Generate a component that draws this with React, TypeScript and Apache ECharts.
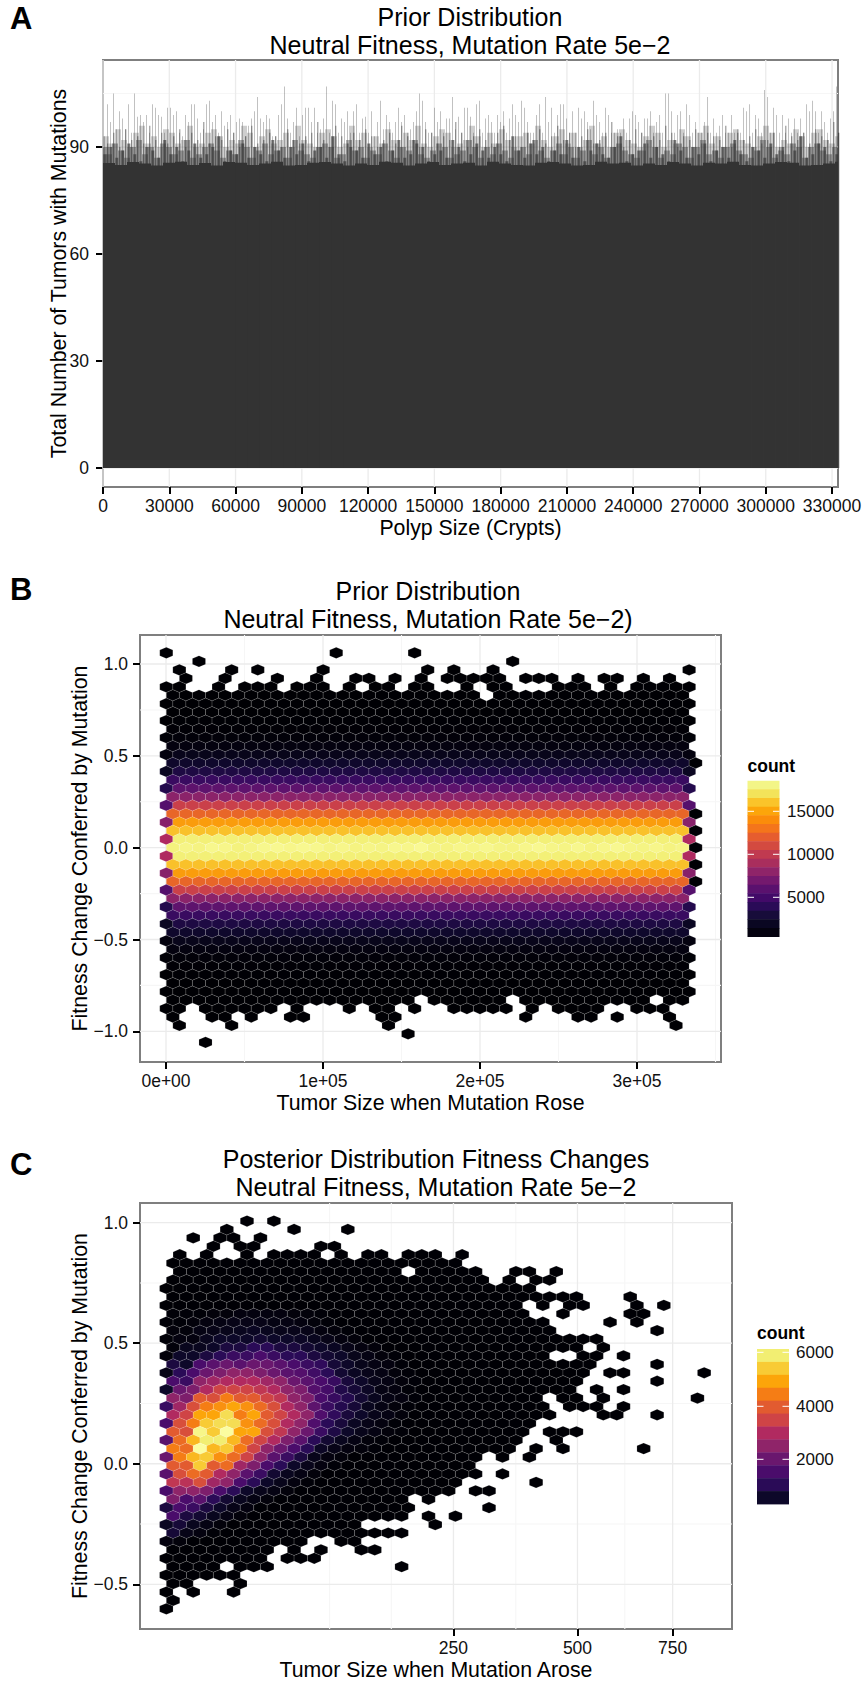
import React, { useEffect, useRef } from "react";
import * as echarts from "echarts";

const FONT = "Liberation Sans, Arial, Helvetica, sans-serif";

// ---------- Panel A ----------
const polypBinSize = 1358;
const polypTicks = [0, 30000, 60000, 90000, 120000, 150000, 180000, 210000, 240000, 270000, 300000, 330000];
const tumorCountTicks = [0, 30, 60, 90];
const spikeTops = [
  93,102,97,105,95,100,98,95,102,94,105,98.5,99,97,99,94,102,101,99,98.5,94,101,101,99,100,94,93,99,97,102,102,98,94,95,102,103,97,99,94,100,96,97,99,94,97,98,97,93,96,98,100,104,98,97,99,98,93,93,99,102,107,98,94,97,101,93,99,101,101,97,101,94,95,98,107,94,103,102,94,98,97,100,94,100,102,94,98,98.5,94,100,93,97,103,95,99,97,94,97,101,97,99,94,95,97,100,105,103,97,94,94,101,97,100,94,98,98,104,95,98.5,94,101,101,98.5,
  94,102,103,94,98,99,97,94,99,97,100,94,98,102,99,97,103,101,97,94,94,99,102,94,104,97,101,94,99,102,102,98,94,100,94,101,98,100,97,95,103,99,97,94,101,99,94,94,95,94,98,94,98,100,99,97,94,98,98,100,94,97,99,94,105,105,100,94,99,100,94,102,99,94,97,94,94,97,104,94,98,94,96,99,94,94,99,94,95,94,101,100,102,94,99,98,94,106,104,94,101,99,94,99,94,98,94,98,94,98,94,102,100,103,100,94,100,97,94,98,100,107,94,
];
const darkLineTops = [
  91,94,90,95,92,93,91,96,92,94,91,93,95,90,94,92,97,91,93,92,95,94,90,93,96,91,92,94,93,90,95,92,91,93,94,97,92,90,96,93,91,94,92,95,93,90,92,94,91,96,93,92,90,95,94,91,93,92,97,94,90,93,95,92,91,94,96,92,93,90,94,92,95,91,93,96,92,94,90,93,95,91,92,94,97,93,90,92,95,94,91,93,92,96,94,90,93,92,95,91,94,93,92,96,90,94,92,93,95,91,92,94,90,96,93,92,94,91,95,93,92,97,94,
];
const deepLineTops = [
  88,90,87,89,91,88,86,90,89,87,92,88,90,86,89,91,87,88,90,93,86,89,88,91,87,90,88,86,92,89,87,90,88,91,86,89,90,87,93,88,86,90,89,87,91,88,90,86,89,92,87,88,91,90,86,88,89,87,92,90,86,88,91,89,87,90,88,86,93,89,87,91,88,90,86,89,88,92,87,90,86,89,91,88,87,90,93,86,88,89,91,87,90,88,86,92,89,87,90,88,91,86,89,90,87,92,88,86,90,89,87,91,88,90,86,89,93,87,88,91,90,86,88,
];
const washTops = [
  93,91,95,92,90,94,96,91,93,90,95,94,91,92,96,90,91,94,95,93,90,92,91,96,94,90,93,95,91,92,94,90,96,92,91,90,94,95,93,90,91,96,92,94,90,93,91,95,92,90,94,92,96,91,90,93,95,94,90,91,92,96,93,90,94,91,95,92,90,93,94,91,96,92,90,93,95,91,94,90,92,96,91,93,90,94,95,92,91,90,93,96,94,90,92,91,95,93,90,94,96,91,93,90,94,95,92,91,90,93,96,94,90,92,91,95,93,90,94,95,92,91,93,
];
const midTops = [
  90,88,91,89,87,90,92,88,90,87,91,90,88,89,92,87,88,90,91,89,87,89,88,92,90,87,89,91,88,89,90,87,92,89,88,87,90,91,90,87,88,92,89,90,87,89,88,91,89,87,90,89,92,88,87,89,91,90,87,88,89,92,90,87,90,88,91,89,87,89,90,88,92,89,87,89,91,88,90,87,89,92,88,90,87,90,91,89,88,87,89,92,90,87,89,88,91,90,87,90,92,88,89,87,90,91,89,88,87,89,92,90,87,89,88,91,90,87,90,91,89,88,90,
];
const coreTops = [
  85.5,85,85.8,85.4,84.8,85.6,85.9,85,85.5,84.8,85.8,85.6,85,85.4,85.9,84.8,85,85.6,85.8,85.4,84.8,85.4,85,85.9,85.6,84.8,85.4,85.8,85,85.4,85.6,84.8,85.9,85.4,85,84.8,85.6,85.8,85.4,84.8,85,85.9,85.4,85.6,84.8,85.4,85,85.8,85.4,84.8,85.6,85.4,85.9,85,84.8,85.4,85.8,85.6,84.8,85,85.4,85.9,
];

// ---------- Shared hex colours ----------
const hexLevelColors = ["#000004","#0d0829","#2a0b57","#4a0c6b","#6a176e","#8f2469","#b12a60","#cf4446","#e25b30","#f57d15","#fca50a","#f8cb35","#f2ee72","#fbfda0"];

// ---------- Panel B ----------
const priorSizeTicks = [0, 100000, 200000, 300000];
const priorFitnessTicks = [-1, -0.5, 0, 0.5, 1];
const priorRowCounts = [5,5,5,5,5,8,10,15,25,80,200,430,860,1570,2300,3600,5300,7150,10000,12150,14300,15700,17700,18200,17700,15700,14300,12150,10000,7150,5300,3600,2300,1570,860,430,200,80,25,15,10,8,5,5,5,5,5];
const priorEdgeCounts = [0,0,0,0,3,0,5,0,12,0,100,0,420,0,1200,0,2600,0,4900,0,7000,0,8700,0,8700,0,7000,0,4900,0,2600,0,1200,0,420,0,100,0,12,0,5,0,3,0,0,0,0];
const priorRow23Counts = [17900,18200,18000,18400,18300,17900,18100,18400,18500,18300,18500,18400,18100,18300,18000,18200,18100,18400,18300,18600,18100,18000,18300,18200,18400,18100,18000,18300,18500,18200,18100,18400,18000,18300,18500,18200,18100,18300,18000,18200];
const priorFringeRows: Record<number, number[]> = {
  0: [0, 13, 19],
  1: [2.5, 26.5],
  2: [1, 5, 7, 12, 20, 22, 25, 40],
  3: [1.5, 4.5, 8.5, 11.5, 14.5, 15.5, 17.5, 19.5, 21.5, 22.5, 23.5, 24.5, 25.5, 27.5, 28.5, 29.5, 31.5, 33.5, 34.5, 36.5, 38.5],
  4: [0, 1, 4, 6, 7, 8, 10, 11, 12, 14, 16, 17, 19, 20, 23, 25, 26, 30, 31, 32, 34, 36, 37, 38, 39, 40],
  42: [0, 1, 3, 4, 5, 6, 7, 8, 10, 14, 16, 17, 19, 22, 23, 24, 25, 26, 28, 30, 31, 32, 33, 36, 37, 38],
  43: [0.5, 3.5, 4.5, 6.5, 9.5, 10.5, 16.5, 17.5, 27.5, 31.5, 32.5, 34.5, 38.5],
  44: [1, 5, 17, 39],
  45: [18.5],
  46: [3],
};
const priorHoles: Record<number, number[]> = { 5: [24.5], 41: [19.5, 26.5, 37.5] };
const priorRightExtras = [13, 19, 21, 23, 25, 27];
const priorLegendTicks = [5000, 10000, 15000];
const priorLegendBands = ["#f3f587","#f3e35a","#fac42a","#fca50a","#fb8c0a","#f4751b","#e65d2f","#d34a40","#c03a50","#a92e5d","#8f2469","#74196e","#5a116e","#420a68","#2a0b57","#170c3a","#0a0722","#04020f"];

// ---------- Panel C ----------
const arisenSizeTicks = [250, 500, 750];
const arisenFitnessTicks = [-0.5, 0, 0.5, 1];
const arisenMinorSizes = [86, 157, 365, 618];
type Span = number | [number, number];
const posteriorSpans: Span[][] = [
  [6, 8],
  [4.5, 9.5, 13.5],
  [2, 4, 5, 7],
  [3.5, 5.5, 6.5, 11.5, 12.5],
  [1, 3, 6, 8, 9, 10, 11, 13, 15, 16, 18, 19, 20, 22],
  [[0.5, 21.5]],
  [[1, 17], [19, 23], 26, 27, 29],
  [[0.5, 23.5], 25.5, 27.5, 28.5],
  [[0, 27]],
  [[0.5, 30.5], 34.5],
  [[0, 26], 28, 30, 31, 35, 37],
  [[0.5, 26.5], 29.5, 34.5, 35.5],
  [[0, 28], 33, 35],
  [[0.5, 28.5], 36.5],
  [[0, 32]],
  [[0.5, 30.5], 32.5],
  [[0, 28], 31, 32, 34],
  [[0.5, 31.5], 36.5],
  [[0, 31], 33, 34, 40],
  [[0.5, 30.5], 36.5],
  [[0, 30], 32, 34],
  [[0.5, 27.5], 29.5, 30.5, 32.5, 39.5],
  [[0, 28], 30, 31, 32, 34],
  [[0.5, 28.5], 32.5, 33.5, 36.5],
  [[0, 27]],
  [[0.5, 26.5], 28.5, 29.5, 30.5],
  [[0, 26], 29],
  [[0.5, 25.5], 27.5, 29.5, 35.5],
  [[0, 23], 25, 27],
  [[0.5, 22.5]],
  [[0, 23], 25],
  [[0.5, 21.5], 27.5],
  [[0, 21], 23, 24],
  [[0.5, 17.5], 19.5],
  [[0, 18], 24],
  [[0.5, 17.5], 19.5, 21.5],
  [[0, 14], 20],
  [[0.5, 17.5]],
  [[0, 10], 13, 14],
  [[0.5, 7.5], 9.5, 11.5, 14.5, 15.5],
  [[0, 7], 9, 10, 11],
  [[0.5, 3.5], [5.5, 7.5], 17.5],
  [[0, 5]],
  [0.5, 1.5, 5.5],
  [0, 2, 5],
  [0.5],
  [0],
];
// Colour level of the cells at the start of each row (1 level = 450 tumours)
const posteriorLevels: Record<number, number[]> = {
  11: [.1,.1,.1,.2,.2,.3,.3,.3,.3,.2,.2,.1],
  12: [.1,.1,.2,.3,.4,.5,.5,.5,.4,.4,.3,.2,.1],
  13: [.2,.2,.4,.5,.6,.7,.8,.7,.6,.6,.5,.3,.2,.1],
  14: [.1,.3,.3,.7,1,1,1,1.2,1,1,.9,.7,.5,.3,.2],
  15: [.2,.7,.7,1,1.5,1.5,2,2,1.5,1.5,1.2,1,.8,.5,.3,.2],
  16: [.2,1,1,1.5,2,2.5,2.5,3,2.5,2,2,1.5,1.2,1,.6,.4,.2,.1],
  17: [1.5,1,3,3.5,4,3.5,4,4,3.5,3,2.5,2.2,1.3,1,.6,.4,.3,.1],
  18: [.5,2,3,4,4.5,5,5,4.5,4,3.5,3.3,2.7,2,1.2,.8,.6,.4,.2,.1],
  19: [3,2.5,5,5.5,6,6,6,5.5,5,4,3.5,3,2.4,1.4,1,.6,.4,.2,.1],
  20: [1,4,4.5,6,7,7,7,6.5,6,5,4.5,3.3,2.8,1.7,1.3,.9,.4,.3,.1],
  21: [5,4.5,8,7.5,9,8,8,7,6.5,5,4.5,3,2.4,1.8,1.2,.7,.4,.3,.1],
  22: [2.5,5.5,7.5,9,9.5,10,9.5,8.5,7.5,6,5,3.6,2.5,1.8,1.3,.7,.4,.2,.1],
  23: [6,7,10,10,11.5,9,10,8,7,6,5,3.2,2.2,1.4,1,.6,.4,.2],
  24: [3,7.5,9,11,11.5,11.5,9.5,8.5,7.5,6,5,3.2,2,1.4,.8,.5,.3,.1],
  25: [8,7.5,12.5,11,13,10,10,7.5,6.5,5,4,2.5,1.6,1,.6,.4,.2,.1],
  26: [3.5,8.5,10.5,12,12,10.5,8.5,7,6,4.5,3.5,2,1.2,.7,.4,.2,.1],
  27: [9,8.5,13.5,10.5,11,9,7,5,4,3,2,.9,.5,.3,.2,.1],
  28: [4,9,10.5,11,9.5,8.5,7,5,3.5,2.5,1.5,.6,.3,.2],
  29: [8,8,11,8,8.5,5.5,4.5,3,2,1,.6,.3,.1],
  30: [3.5,7.5,8.5,8,6,5,3.5,2.5,1.2,.7,.4,.2],
  31: [6.5,6.3,7.5,5.5,5,3,2,1,.6,.3,.1],
  32: [3,5,5,4.5,3,2,1,.6,.4,.2],
  33: [4.5,3,3.5,2,1.2,.7,.4,.2],
  34: [1.5,3,2.5,1.5,1,.5,.3],
  35: [3,1.5,1.2,.7,.4,.2],
  36: [.8,1.3,.7,.4,.2],
  37: [1.3,.5,.3,.1],
  38: [.3,.2],
};
const posteriorLegendTicks = [2000, 4000, 6000];
const posteriorLegendBands = ["#f2ee72","#f8cb35","#fca50a","#f57d15","#e25b30","#cf4446","#b12a60","#8f2469","#6a176e","#4a0c6b","#2a0b57","#0d0829"];

const priorStepX = 8325, priorStartX = 190, priorStepY = 0.0461;
const postStepX = 0.71, postStartX = 0.65, postStepY = 0.03498, postStartY = 1.007;
const levelCount = 450;

const priorCells: number[][] = [];
for (let r = 0; r < priorRowCounts.length; r++) {
  const odd = r % 2 === 1;
  let cols: number[] = [];
  if (priorFringeRows[r]) cols = priorFringeRows[r];
  else {
    const last = odd ? 39.5 : 40;
    for (let c = odd ? 0.5 : 0; c <= last; c++) cols.push(c);
    if (priorHoles[r]) cols = cols.filter((c) => !priorHoles[r].includes(c));
    if (priorRightExtras.includes(r)) cols.push(40.5);
  }
  cols.forEach((c) => {
    let n = priorRowCounts[r];
    if (!odd && (c === 0 || c === 40)) n = priorEdgeCounts[r];
    if (r === 23 && c < 40) n = priorRow23Counts[Math.floor(c)];
    if (c === 40.5) n = 40;
    priorCells.push([priorStartX + c * priorStepX, (23 - r) * priorStepY, n]);
  });
}
const postCells: number[][] = [];
posteriorSpans.forEach((spans, r) => {
  const base = r % 2 === 1 ? 0.5 : 0;
  spans.forEach((s) => {
    const [a, b] = Array.isArray(s) ? s : [s, s];
    for (let c = a; c <= b; c++) {
      const lv = posteriorLevels[r]?.[Math.round(c - base)] ?? 0.03;
      postCells.push([postStartX + c * postStepX, postStartY - r * postStepY, lv * levelCount]);
    }
  });
});

const hexColor = (level: number) =>
  echarts.color.lerp(Math.min(1, Math.max(0, level / 13)), hexLevelColors) as string;

const gridLines = (xMajor: number[], xMinor: number[], yMajor: number[], yMinor: number[]) => {
  const d: number[][] = [];
  xMinor.forEach((v) => d.push([0, v, 0]));
  yMinor.forEach((v) => d.push([1, v, 0]));
  xMajor.forEach((v) => d.push([0, v, 1]));
  yMajor.forEach((v) => d.push([1, v, 1]));
  return d;
};

function gridLineSeries(idx: number, data: number[][], ext: number[]) {
  const [x0, x1, y0, y1] = ext;
  return {
    type: "custom", xAxisIndex: idx, yAxisIndex: idx, silent: true, z: 1, data,
    renderItem: (_: any, api: any) => {
      const vert = api.value(0) === 0;
      const v = api.value(1);
      const a = api.coord(vert ? [v, y0] : [x0, v]);
      const b = api.coord(vert ? [v, y1] : [x1, v]);
      return {
        type: "line",
        shape: { x1: a[0], y1: a[1], x2: b[0], y2: b[1] },
        style: { stroke: api.value(2) ? "#ebebeb" : "#f6f6f6", lineWidth: api.value(2) ? 1.3 : 1.1 },
      };
    },
  };
}

function columnSeries(values: number[], binFactor: number, shift: number, widthPx: number, color: string, z: number) {
  return {
    type: "custom", xAxisIndex: 0, yAxisIndex: 0, silent: true, z,
    data: values.map((v, i) => [(i * binFactor + shift) * polypBinSize, v]),
    renderItem: (_: any, api: any) => {
      const top = api.coord([api.value(0), api.value(1)]);
      const base = api.coord([api.value(0), 0]);
      const left = Math.max(103, top[0] - widthPx / 2);
      return { type: "rect", shape: { x: left, y: top[1], width: Math.min(838 - left, widthPx), height: base[1] - top[1] }, style: { fill: color } };
    },
  };
}

function hexSeries(idx: number, cells: number[][], stepX: number, stepY: number, unit: number) {
  return {
    type: "custom", xAxisIndex: idx, yAxisIndex: idx, silent: true, z: 3, data: cells,
    renderItem: (_: any, api: any) => {
      const c = api.coord([api.value(0), api.value(1)]);
      const s = api.size([stepX, stepY]);
      const hw = s[0] / 2, hh = (s[1] * 2) / 3, q = hh / 2;
      return {
        type: "polygon",
        shape: { points: [[c[0], c[1] - hh], [c[0] + hw, c[1] - q], [c[0] + hw, c[1] + q], [c[0], c[1] + hh], [c[0] - hw, c[1] + q], [c[0] - hw, c[1] - q]] },
        style: { fill: hexColor(api.value(2) / unit), stroke: "rgba(255,255,255,0.25)", lineWidth: 0.5 },
      };
    },
  };
}

const tickStyle = { show: true, length: 7, lineStyle: { color: "#000", width: 2 } };
const labelBase = { color: "#111", fontFamily: FONT, fontSize: 17.5 };
const nameStyle = { color: "#000", fontFamily: FONT, fontSize: 21.3 };
const minus = (s: string) => s.replace("-", "\u2212");

function axis(cfg: any) {
  return {
    type: "value", min: cfg.min, max: cfg.max, gridIndex: cfg.grid,
    name: cfg.name, nameLocation: "center", nameGap: cfg.gap, nameTextStyle: nameStyle,
    nameMoveOverlap: cfg.moveName ?? true,
    axisLine: { show: false, onZero: false }, splitLine: { show: false }, minorSplitLine: { show: false },
    axisTick: { ...tickStyle, customValues: cfg.ticks },
    axisLabel: { ...labelBase, customValues: cfg.ticks, margin: cfg.margin, formatter: cfg.fmt, hideOverlap: false },
  };
}

function legend(title: string, x: number, titleY: number, top: number, bottom: number, bands: string[], ticks: number[], tickY: number[], labelX: number) {
  const els: any[] = [];
  const h = (bottom - top) / bands.length;
  bands.forEach((fill, i) => els.push({ type: "rect", shape: { x, y: top + i * h, width: 32, height: h + 0.4 }, style: { fill }, z: 5 }));
  els.push({ type: "text", x, y: titleY, style: { text: title, fill: "#000", font: `bold 17.5px ${FONT}`, textVerticalAlign: "bottom" }, z: 5 });
  ticks.forEach((t, i) => {
    els.push({ type: "rect", shape: { x, y: tickY[i] - 0.5, width: 6.5, height: 1 }, style: { fill: "#fff" }, z: 6 });
    els.push({ type: "rect", shape: { x: x + 25.5, y: tickY[i] - 0.5, width: 6.5, height: 1 }, style: { fill: "#fff" }, z: 6 });
    els.push({ type: "text", x: labelX, y: tickY[i], style: { text: String(t), fill: "#111", font: `17px ${FONT}`, textVerticalAlign: "middle" }, z: 5 });
  });
  return els;
}

const panelTag = (text: string, y: number) => ({
  type: "text", x: 10, y, style: { text, fill: "#000", font: `bold 31px ${FONT}`, textVerticalAlign: "bottom" }, z: 5,
});
const titleOf = (text: string, left: number, top: number) => ({
  text, left, top, textAlign: "center", padding: 0,
  textStyle: { color: "#000", fontFamily: FONT, fontSize: 25, fontWeight: "normal", lineHeight: 28 },
});

export default function App() {
  const ref = useRef<HTMLDivElement>(null);
  useEffect(() => {
    document.body.style.margin = "0";
    const chart = echarts.init(ref.current!, undefined, { renderer: "svg" });
    const extA = [0, 332700, -5.3, 114.4];
    const extB = [-16560, 353500, -1.167, 1.158];
    const extC = [-0.74, 30.52, -0.6855, 1.0817];
    const sqrtTicks = arisenSizeTicks.map(Math.sqrt);
    const sqrtMinor = arisenMinorSizes.map(Math.sqrt);
    chart.setOption({
      animation: false,
      backgroundColor: "#fff",
      title: [
        titleOf("Prior Distribution\nNeutral Fitness, Mutation Rate 5e\u22122", 470, 3),
        titleOf("Prior Distribution\nNeutral Fitness, Mutation Rate 5e\u22122)", 428, 577),
        titleOf("Posterior Distribution Fitness Changes\nNeutral Fitness, Mutation Rate 5e\u22122", 436, 1145),
      ],
      grid: [
        { left: 103, top: 60, width: 735, height: 427 },
        { left: 140, top: 635, width: 581, height: 427 },
        { left: 140, top: 1203, width: 592, height: 426 },
      ].map((g) => ({ ...g, show: true, backgroundColor: "#fff", borderColor: "#7f7f7f", borderWidth: 2, containLabel: false, outerBoundsMode: "none" })),
      xAxis: [
        axis({ grid: 0, min: extA[0], max: extA[1], ticks: polypTicks, name: "Polyp Size (Crypts)", gap: 30, margin: 10, fmt: (v: number) => String(v) }),
        axis({ grid: 1, min: extB[0], max: extB[1], ticks: priorSizeTicks, name: "Tumor Size when Mutation Rose", gap: 30, margin: 10, fmt: (v: number) => v.toExponential(0).replace(/e\+(\d)$/, "e+0$1").replace(/^0e\+0+$/, "0e+00") }),
        axis({ grid: 2, min: extC[0], max: extC[1], ticks: sqrtTicks, name: "Tumor Size when Mutation Arose", gap: 30, margin: 10, fmt: (v: number) => String(Math.round(v * v)) }),
      ],
      yAxis: [
        axis({ grid: 0, min: extA[2], max: extA[3], ticks: tumorCountTicks, name: "Total Number of Tumors with Mutations", gap: 34, margin: 14, moveName: false, fmt: (v: number) => String(v) }),
        axis({ grid: 1, min: extB[2], max: extB[3], ticks: priorFitnessTicks, name: "Fitness Change Conferred by Mutation", gap: 50, margin: 12, moveName: false, fmt: (v: number) => minus(v.toFixed(1)) }),
        axis({ grid: 2, min: extC[2], max: extC[3], ticks: arisenFitnessTicks, name: "Fitness Change Conferred by Mutation", gap: 50, margin: 12, moveName: false, fmt: (v: number) => minus(v.toFixed(1)) }),
      ],
      series: [
        gridLineSeries(0, gridLines(polypTicks, [], tumorCountTicks, [15, 45, 75, 105]), extA),
        gridLineSeries(1, gridLines(priorSizeTicks, [50000, 150000, 250000, 350000], priorFitnessTicks, [-0.75, -0.25, 0.25, 0.75]), extB),
        gridLineSeries(2, gridLines(sqrtTicks, sqrtMinor, arisenFitnessTicks, [-0.25, 0.25, 0.75]), extC),
        columnSeries(spikeTops, 1, 0.5, 1, "rgba(51,51,51,0.3)", 2),
        columnSeries(washTops, 2, 1, 6, "rgba(51,51,51,0.24)", 3),
        columnSeries(midTops, 2, 0, 6, "rgba(51,51,51,0.4)", 4),
        columnSeries(darkLineTops, 2, 1.6, 1, "rgba(51,51,51,0.6)", 5),
        columnSeries(deepLineTops, 2, 0.6, 3, "rgba(51,51,51,0.65)", 5),
        columnSeries(coreTops, 4, 2, 12, "#333333", 6),
        hexSeries(1, priorCells, priorStepX, priorStepY, 19000 / 13),
        hexSeries(2, postCells, postStepX, postStepY, levelCount),
      ],
      graphic: [
        panelTag("A", 34),
        panelTag("B", 605),
        panelTag("C", 1180),
        ...legend("count", 747.5, 775, 780.7, 936.7, priorLegendBands, priorLegendTicks, [897.3, 854.3, 811.3], 787),
        ...legend("count", 757, 1342, 1349, 1504, posteriorLegendBands, posteriorLegendTicks, [1459.3, 1406.3, 1352.3], 796),
      ],
    });
    return () => chart.dispose();
  }, []);
  return <div ref={ref} style={{ position: "absolute", left: 0, top: 0, width: 865, height: 1682 }} />;
}
